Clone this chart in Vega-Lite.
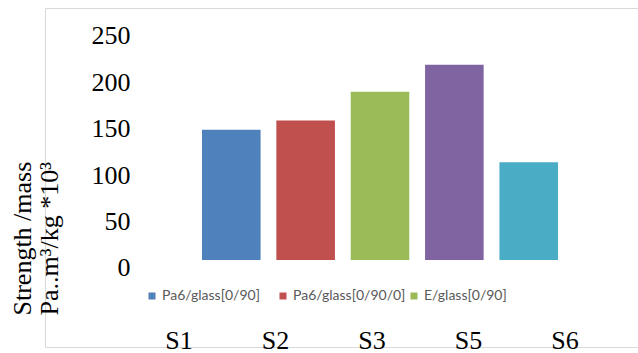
{
  "$schema": "https://vega.github.io/schema/vega-lite/v6.json",
  "width": 593,
  "height": 339,
  "autosize": {"type": "none"},
  "padding": {"left": 45, "top": 8, "right": 0, "bottom": 6},
  "background": "white",
  "config": {
    "view": {"stroke": "#d9d9d9", "strokeWidth": 1},
    "axis": {"grid": false}
  },
  "data": {
    "values": [
      {"sample": "S1", "material": "Pa6/glass[0/90]", "value": 149},
      {"sample": "S2", "material": "Pa6/glass[0/90/0]", "value": 159},
      {"sample": "S3", "material": "E/glass[0/90]", "value": 190},
      {"sample": "S5", "material": "E/glass[0/90/0]", "value": 219},
      {"sample": "S6", "material": "E/glass[±45]", "value": 114}
    ]
  },
  "layer": [
    {
      "mark": {"type": "bar", "y2Offset": -8},
      "encoding": {
        "x": {
          "field": "sample",
          "type": "nominal",
          "scale": {"range": [157, 513], "paddingInner": 0.212, "paddingOuter": 0},
          "axis": null
        },
        "y": {
          "field": "value",
          "type": "quantitative",
          "scale": {"domain": [-85.13, 280.17], "nice": false, "zero": false},
          "axis": {
            "orient": "left",
            "offset": -85,
            "values": [0, 50, 100, 150, 200, 250],
            "domain": false,
            "ticks": false,
            "tickSize": 0,
            "labelPadding": 0,
            "labelAlign": "right",
            "labelBaseline": "middle",
            "labelFont": "Liberation Serif",
            "labelFontSize": 26,
            "labelColor": "#000000",
            "title": ["Strength /mass", "Pa..m³/kg *10³"],
            "titleFont": "Liberation Serif",
            "titleFontSize": 26,
            "titleFontWeight": "normal",
            "titleColor": "#000000",
            "titleAngle": -90,
            "titleAlign": "left",
            "titleBaseline": "alphabetic",
            "titleLineHeight": 27,
            "titleX": -100,
            "titleY": 307
          }
        },
        "y2": {"datum": 0},
        "color": {
          "field": "material",
          "type": "nominal",
          "scale": {
            "domain": ["Pa6/glass[0/90]", "Pa6/glass[0/90/0]", "E/glass[0/90]", "E/glass[0/90/0]", "E/glass[±45]"],
            "range": ["#4f81bd", "#c0504d", "#9bbb59", "#8064a2", "#4bacc6"]
          },
          "legend": {
            "orient": "none",
            "legendX": 100,
            "legendY": 281,
            "direction": "horizontal",
            "columns": 3,
            "gridAlign": "all",
            "columnPadding": 1,
            "padding": 0,
            "title": null,
            "values": ["Pa6/glass[0/90]", "Pa6/glass[0/90/0]", "E/glass[0/90]"],
            "symbolType": "square",
            "symbolSize": 49,
            "symbolStrokeWidth": 0,
            "labelFont": "Lato",
            "labelFontSize": 14,
            "labelColor": "#595959",
            "labelOffset": 3,
            "labelLimit": 300
          }
        }
      }
    },
    {
      "mark": {"type": "point", "opacity": 0},
      "encoding": {
        "x": {
          "field": "sample",
          "type": "ordinal",
          "scale": {"type": "point", "range": [133.5, 519.5], "padding": 0},
          "axis": {
            "orient": "bottom",
            "offset": -7,
            "domain": false,
            "ticks": false,
            "tickSize": 0,
            "labelPadding": 0,
            "labelAngle": 0,
            "labelBaseline": "middle",
            "labelFont": "Liberation Serif",
            "labelFontSize": 26,
            "labelColor": "#000000",
            "title": null
          }
        },
        "y": {"field": "value", "type": "quantitative"}
      }
    }
  ],
  "resolve": {"scale": {"x": "independent"}, "axis": {"x": "independent"}}
}
